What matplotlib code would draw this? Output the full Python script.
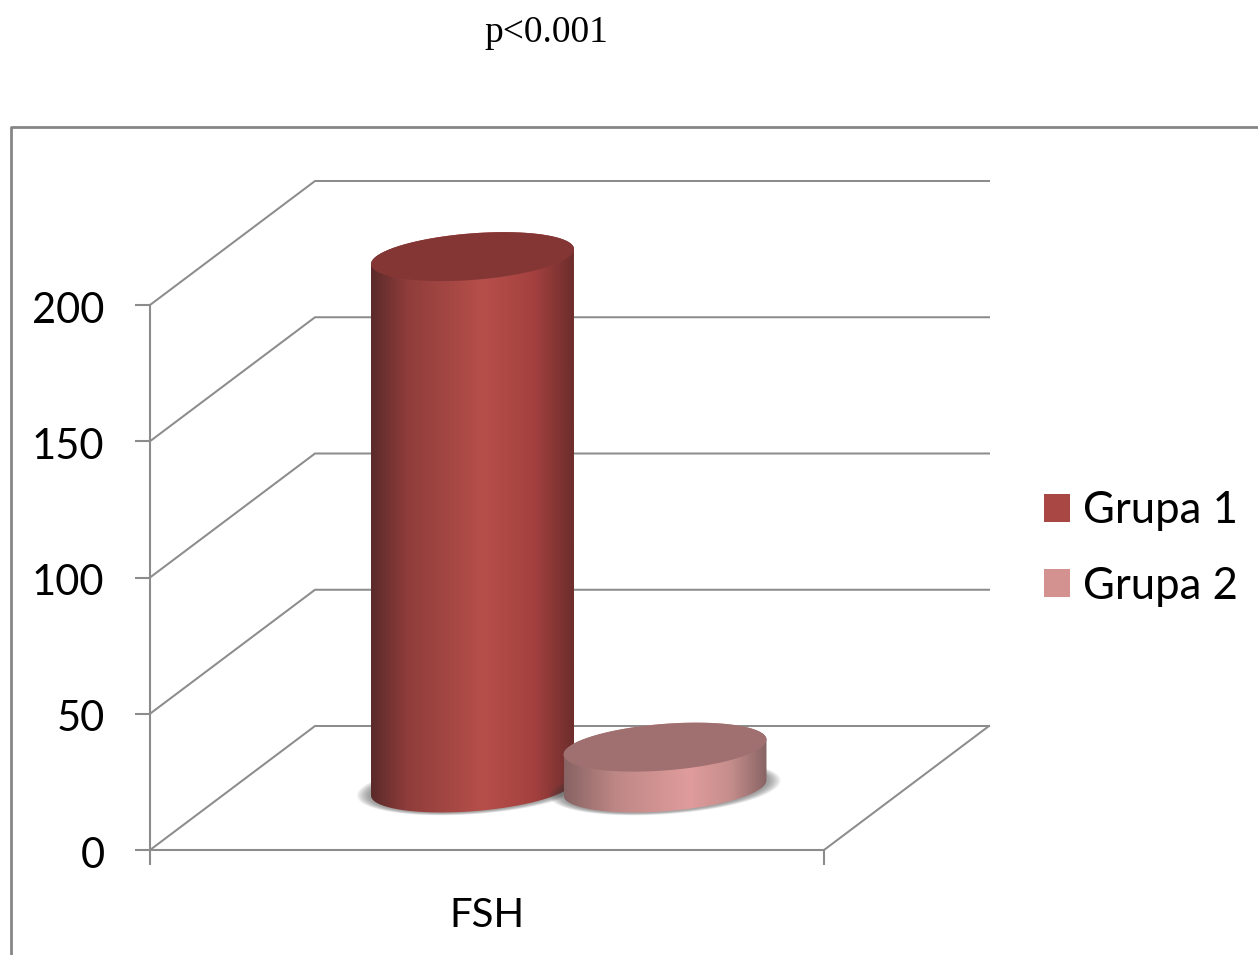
import numpy as np
import matplotlib.pyplot as plt
from matplotlib.colors import LinearSegmentedColormap
from matplotlib.lines import Line2D
from matplotlib.patches import Patch, PathPatch, Polygon
from matplotlib.path import Path
from matplotlib.transforms import ScaledTranslation

categories = ['FSH']
series = ['Grupa 1', 'Grupa 2']
values = [195, 15]
y_ticks = [0, 50, 100, 150, 200]

plt.rcParams['font.family'] = ['Lato', 'DejaVu Sans']

W, H = 1258, 955
GREY = '#8c8c8c'
FRAME = '#868686'

# chart box geometry, x axis runs in pixels so the 3D depth stays simple
LEFT, RIGHT, TOP, BOTTOM = 150, 824, 305, 850
PX_PER_UNIT = (BOTTOM - TOP) / max(y_ticks)
DEPTH_X = 165
DEPTH_Y = 124 / PX_PER_UNIT

# cylinder shape
RADIUS = 101.5
TILT = 7.5 / PX_PER_UNIT
MINOR = 23.3 / PX_PER_UNIT
CENTERS = [322.5, 515]

side_stops = [
    [(0, '#5b2a2a'), (0.18, '#8f3d3b'), (0.55, '#b64f4a'), (0.8, '#a4413f'), (1, '#6b2d2c')],
    [(0, '#876363'), (0.25, '#bd8785'), (0.62, '#e09c9c'), (0.82, '#c58e8c'), (1, '#886464')],
]
top_colors = ['#843635', '#a06f6f']
legend_colors = ['#a84744', '#d39190']


def ellipse(cx, cy, t, grow_x=0, grow_y=0):
    x = cx + (RADIUS + grow_x) * np.cos(t)
    y = cy + TILT * np.cos(t) + (MINOR + grow_y) * np.sin(t)
    return np.column_stack([x, y])


def draw_cylinder(ax, cx, value, stops, top_color, z):
    base = DEPTH_Y / 2
    top = base + value

    # soft shadow under the base
    t = np.linspace(0, 2 * np.pi, 200)
    for f in np.linspace(1, 0.2, 8):
        ax.add_patch(Polygon(ellipse(cx, base, t, 14 * f, 3 * f / PX_PER_UNIT),
                             closed=True, fc='#404040', ec='none', alpha=0.075,
                             zorder=z, clip_on=False))

    # side wall: bottom arc plus straight edges up to the top ellipse
    arc = ellipse(cx, base, np.linspace(np.pi, 2 * np.pi, 120))
    upper = ellipse(cx, top, np.linspace(0, np.pi, 120))
    outline = np.vstack([arc, upper, arc[:1]])
    clip = PathPatch(Path(outline), transform=ax.transData, fc='none', ec='none')
    ax.add_patch(clip)

    cmap = LinearSegmentedColormap.from_list('side', stops)
    grad = np.linspace(0, 1, 256).reshape(1, -1)
    im = ax.imshow(grad, cmap=cmap, aspect='auto', interpolation='bilinear',
                   extent=[cx - RADIUS, cx + RADIUS, base - MINOR * 2, top + MINOR * 2],
                   zorder=z + 1)
    # the cylinder rises above the axes box, so only the outline may clip it
    im.set_clip_box(ax.figure.bbox)
    im.set_clip_path(clip)

    ax.add_patch(Polygon(ellipse(cx, top, t), closed=True, fc=top_color, ec='none',
                         zorder=z + 2, clip_on=False))


fig = plt.figure(figsize=(W / 100, H / 100), dpi=100, facecolor='white')
ax = fig.add_axes([LEFT / W, 1 - BOTTOM / H, (RIGHT - LEFT) / W, (BOTTOM - TOP) / H])
ax.patch.set_visible(False)

# outer frame, open at the right and bottom edges
fig.add_artist(Line2D([11 / W, 11 / W, 1], [0, 1 - 127 / H, 1 - 127 / H],
                      color=FRAME, lw=2, transform=fig.transFigure))

# walls and floor
for v in y_ticks:
    ax.plot([0, DEPTH_X, RIGHT - LEFT + DEPTH_X], [v, v + DEPTH_Y, v + DEPTH_Y],
            color=GREY, lw=1.45, clip_on=False, zorder=1)
ax.plot([RIGHT - LEFT, RIGHT - LEFT + DEPTH_X], [0, DEPTH_Y],
        color=GREY, lw=1.45, clip_on=False, zorder=1)

for i, (cx, value) in enumerate(zip(CENTERS, values)):
    draw_cylinder(ax, cx, value, side_stops[i], top_colors[i], 2 + i * 4)

ax.set_xlim(0, RIGHT - LEFT)
ax.set_ylim(0, max(y_ticks))

for name in ['top', 'right']:
    ax.spines[name].set_visible(False)
for name in ['left', 'bottom']:
    ax.spines[name].set_color(GREY)
    ax.spines[name].set_linewidth(1.5)

ax.set_yticks(y_ticks)
ax.tick_params(axis='y', length=10.8, width=1.5, color=GREY, pad=22, labelsize=30, labelcolor='black')
for label in ax.get_yticklabels():
    label.set_transform(label.get_transform() + ScaledTranslation(0, -2 / 100, fig.dpi_scale_trans))
ax.set_xticks([0, RIGHT - LEFT], labels=['', ''])
ax.tick_params(axis='x', which='major', length=10.8, width=1.5, color=GREY)
ax.set_xticks([(RIGHT - LEFT) / 2], labels=categories, minor=True)
ax.tick_params(axis='x', which='minor', length=0, pad=33.5, labelsize=29, labelcolor='black')

handles = [Patch(fc=c, ec='none', label=s) for c, s in zip(legend_colors, series)]
fig.legend(handles=handles, loc='center left', bbox_to_anchor=(1044 / W, 1 - 548.5 / H),
           frameon=False, fontsize=31.5, handlelength=0.6, handleheight=0.6,
           handletextpad=0.3, labelspacing=0.78, borderpad=0, borderaxespad=0)

fig.text(546 / W, 1 - 33 / H, 'p<0.001', family='Liberation Serif', fontsize=27,
         ha='center', va='center', color='black')

fig.savefig('out.png', dpi=100)
plt.close(fig)
